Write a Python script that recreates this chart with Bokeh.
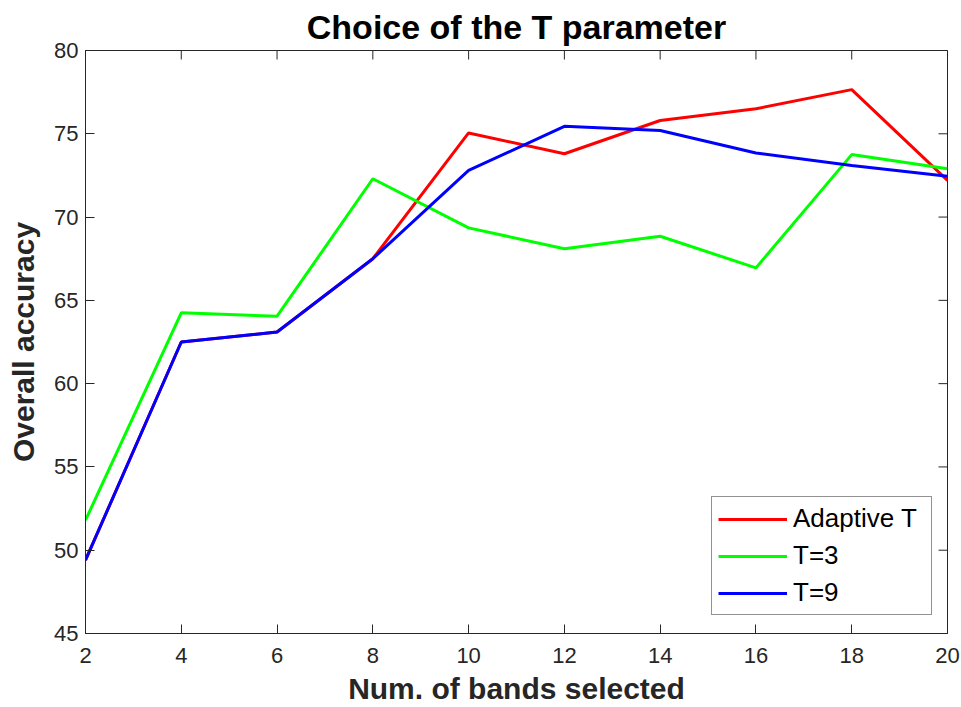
import math
from bokeh.plotting import figure
from bokeh.models import FixedTicker, Legend, LegendItem, Range1d
from bokeh.embed import file_html
from bokeh.resources import INLINE

bands = [2, 4, 6, 8, 10, 12, 14, 16, 18, 20]
adaptive_t = [49.4, 62.5, 63.1, 67.5, 75.05, 73.8, 75.8, 76.5, 77.65, 72.2]
t_3 = [51.8, 64.25, 64.05, 72.3, 69.35, 68.1, 68.85, 66.95, 73.75, 72.9]
t_9 = [49.4, 62.5, 63.1, 67.5, 72.8, 75.45, 75.2, 73.85, 73.1, 72.45]
x_ticks = [2, 4, 6, 8, 10, 12, 14, 16, 18, 20]
y_ticks = [45, 50, 55, 60, 65, 70, 75, 80]
series_names = ["Adaptive T", "T=3", "T=9"]

FONT = "Liberation Sans"
AX = "#262626"

x_lo, x_hi = x_ticks[0], x_ticks[-1]
y_lo, y_hi = y_ticks[0], y_ticks[-1]

p = figure(width=961, height=707, output_backend="svg", toolbar_location=None,
           x_range=Range1d(x_lo, x_hi), y_range=Range1d(y_lo, y_hi),
           min_border_left=85, min_border_right=14, min_border_top=50, min_border_bottom=0,
           x_axis_label="Num. of bands selected", y_axis_label="Overall accuracy")

p.title.text = "Choice of the T parameter"
p.title.text_font = FONT
p.title.text_font_size = "34px"
p.title.text_font_style = "bold"
p.title.text_color = "black"
p.title.align = "center"
p.title.vertical_align = "top"
p.title.text_line_height = 0.9
p.title.standoff = 6

p.xgrid.visible = False
p.ygrid.visible = False
p.outline_line_color = AX
p.outline_line_width = 1
p.background_fill_color = "white"
p.border_fill_color = "white"

for ax, ticks in ((p.xaxis[0], x_ticks), (p.yaxis[0], y_ticks)):
    ax.ticker = FixedTicker(ticks=ticks)
    ax.axis_line_color = AX
    ax.major_tick_line_color = AX
    ax.major_tick_in = 9
    ax.major_tick_out = 0
    ax.minor_tick_line_color = None
    ax.major_label_text_font = FONT
    ax.major_label_text_font_size = "22px"
    ax.major_label_text_color = AX
    ax.axis_label_text_font = FONT
    ax.axis_label_text_font_size = "30px"
    ax.axis_label_text_font_style = "bold"
    ax.axis_label_text_color = AX

p.xaxis[0].major_label_standoff = 14
p.xaxis[0].axis_label_standoff = 6
p.yaxis[0].major_label_standoff = 7
p.yaxis[0].axis_label_standoff = 11

# mirrored box ticks on the top and right edges (clipped to the frame)
p.scatter(x=x_ticks, y=[y_hi] * len(x_ticks), marker="dash", angle=math.pi / 2,
          size=18, line_color=AX, line_width=1)
p.scatter(x=[x_hi] * len(y_ticks), y=y_ticks, marker="dash",
          size=18, line_color=AX, line_width=1)

r1 = p.line(bands, adaptive_t, line_color="#FF0000", line_width=3)
r2 = p.line(bands, t_3, line_color="#00FF00", line_width=3)
r3 = p.line(bands, t_9, line_color="#0000FF", line_width=3)

legend = Legend(items=[LegendItem(label=series_names[0], renderers=[r1]),
                       LegendItem(label=series_names[1], renderers=[r2]),
                       LegendItem(label=series_names[2], renderers=[r3])],
                location=(626, 18), margin=0, padding=6, spacing=6,
                glyph_width=69, glyph_height=30, label_height=30, label_width=132,
                label_standoff=6, label_text_font=FONT, label_text_font_size="26px",
                label_text_color="black", border_line_color=AX, border_line_width=1,
                background_fill_color="white", background_fill_alpha=1)
p.add_layout(legend, "center")

open("out.html", "w").write(file_html(p, INLINE))
